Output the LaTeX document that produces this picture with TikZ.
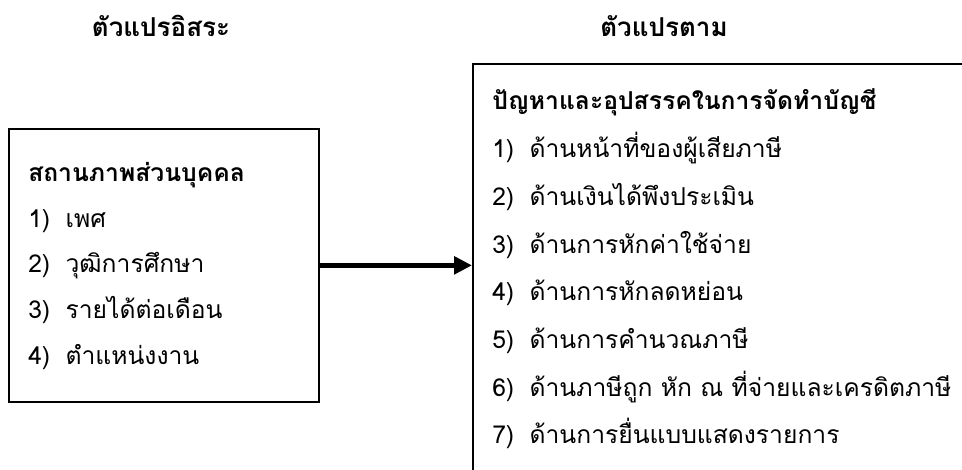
\documentclass[tikz,border=0pt]{standalone}
\usepackage{fontspec}
\setmainfont[Script=Thai]{Loma}
\usetikzlibrary{arrows.meta}

\newcommand\itemno[1]{\makebox[28pt][l]{#1)}}

\begin{document}
\begin{tikzpicture}[x=0.75pt, y=-0.75pt,
        framebox/.style={draw, line width=1.3pt, inner sep=0pt, anchor=north west},
        headtext/.style={font=\fontsize{19.5}{22}\selectfont\bfseries, anchor=base, inner sep=0pt},
        itemtext/.style={font=\fontsize{18.5}{22}\selectfont, anchor=base west, inner sep=0pt},
        titletext/.style={itemtext, font=\fontsize{18.5}{22}\selectfont\bfseries},
        flowarrow/.style={-{Triangle[length=13.5pt, width=13pt]}, line width=3.5pt}]

    \useasboundingbox (0,0) rectangle (962,470);
    \clip (0,0) rectangle (962,470);

    % Column headings
    \node[headtext] (indephead) at (161,37) {ตัวแปรอิสระ};
    \node[headtext] (dephead) at (664,37) {ตัวแปรตาม};

    % Independent variables: closed box on the left
    \node[framebox, minimum width=232.5pt, minimum height=204.75pt] (indep) at (8,128) {};
    \node[titletext] (indeptitle) at (28,181) {สถานภาพส่วนบุคคล};
    \foreach \t [count=\k] in {เพศ, วุฒิการศึกษา, รายได้ต่อเดือน, ตำแหน่งงาน}
        \node[itemtext] (indep-\k) at (28, {227+(\k-1)*45.7}) {\itemno{\k}\t};

    % Dependent variables: box runs off the page on the right and below
    \node[framebox, minimum width=450pt, minimum height=375pt] (dep) at (472,63) {};
    \node[titletext] (deptitle) at (492,110) {ปัญหาและอุปสรรคในการจัดทำบัญชี};
    \foreach \t [count=\k] in {ด้านหน้าที่ของผู้เสียภาษี, ด้านเงินได้พึงประเมิน, ด้านการหักค่าใช้จ่าย,
            ด้านการหักลดหย่อน, ด้านการคำนวณภาษี, ด้านภาษีถูก หัก ณ ที่จ่ายและเครดิตภาษี,
            ด้านการยื่นแบบแสดงรายการ}
        \node[itemtext] (dep-\k) at (492, {157.7+(\k-1)*47.7}) {\itemno{\k}\t};

    \draw[flowarrow] (indep.east) -- (indep.east -| dep.west);
\end{tikzpicture}
\end{document}
